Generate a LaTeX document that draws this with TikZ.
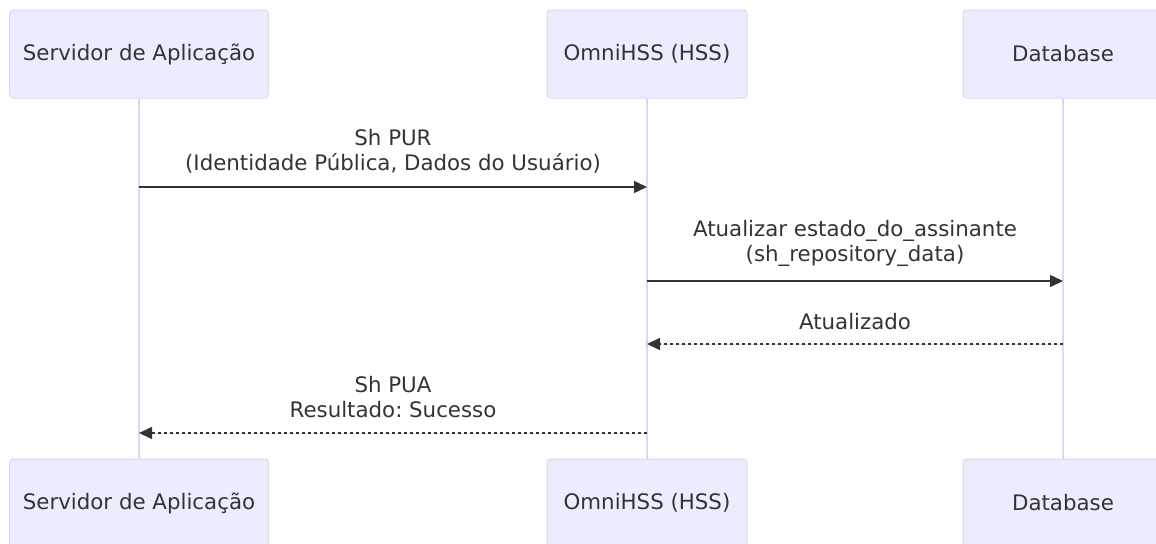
\documentclass[tikz,border=0pt]{standalone}
\usepackage{fontspec}
\setmainfont{DejaVu Sans}
\usetikzlibrary{arrows.meta,positioning}
\frenchspacing

\definecolor{actorfill}{HTML}{ECECFF}
\definecolor{actorline}{HTML}{DCD6F7}
\definecolor{lifecol}{HTML}{DCD6F7}
\definecolor{ink}{HTML}{333333}

\begin{document}
\begin{tikzpicture}[
    x=0.75pt,
    y=-0.75pt,
    >=Stealth,
    actor/.style={
        draw=actorline,
        fill=actorfill,
        line width=0.75pt,
        rounded corners=2.5pt,
        minimum height=66pt,
        minimum width=150pt,
        text=ink,
        font=\fontsize{16}{19}\selectfont
    },
    lifeline/.style={
        draw=lifecol,
        line width=1.1pt
    },
    msg/.style={
        -{Triangle[length=9.75pt,width=9pt]},
        draw=ink,
        fill=ink,
        line width=1.1pt
    },
    reply/.style={
        msg,
        dash pattern=on 2.25pt off 2.25pt
    },
    lbl/.style={
        text=ink,
        align=center,
        inner sep=0pt,
        font=\fontsize{16}{18.75}\selectfont
    }
]

\useasboundingbox (0,0) rectangle (1156,543);

% =====================================================
% Participants
% =====================================================

\node[actor, minimum width=194pt] (srvT) at (139,54) {Servidor de Aplicação};
\node[actor] (hssT) at (647,54) {OmniHSS (HSS)};
\node[actor] (dbT) at (1063,54) {Database};

\node[actor, minimum width=194pt] (srvB) at (139,503) {Servidor de Aplicação};
\node[actor] (hssB) at (647,503) {OmniHSS (HSS)};
\node[actor] (dbB) at (1063,503) {Database};

% =====================================================
% Lifelines
% =====================================================

\draw[lifeline] (srvT) -- (srvB);
\draw[lifeline] (hssT) -- (hssB);
\draw[lifeline] (dbT) -- (dbB);

% =====================================================
% Message points
% =====================================================

\coordinate (S1) at (139,187);
\coordinate (H1) at (647,187);
\coordinate (H2) at (647,281);
\coordinate (D2) at (1063,281);
\coordinate (D3) at (1063,344);
\coordinate (H3) at (647,344);
\coordinate (H4) at (647,433);
\coordinate (S4) at (139,433);

% =====================================================
% Messages
% =====================================================

\draw[msg] (S1) -- node[lbl, above=10pt] {Sh PUR\\(Identidade Pública, Dados do Usuário)} (H1);
\draw[msg] (H2) -- node[lbl, above=10pt] {Atualizar estado\_do\_assinante\\(sh\_repository\_data)} (D2);
\draw[reply] (D3) -- node[lbl, above=10pt] {Atualizado} (H3);
\draw[reply] (H4) -- node[lbl, above=11pt] {Sh PUA\\Resultado: Sucesso} (S4);

\end{tikzpicture}
\end{document}
